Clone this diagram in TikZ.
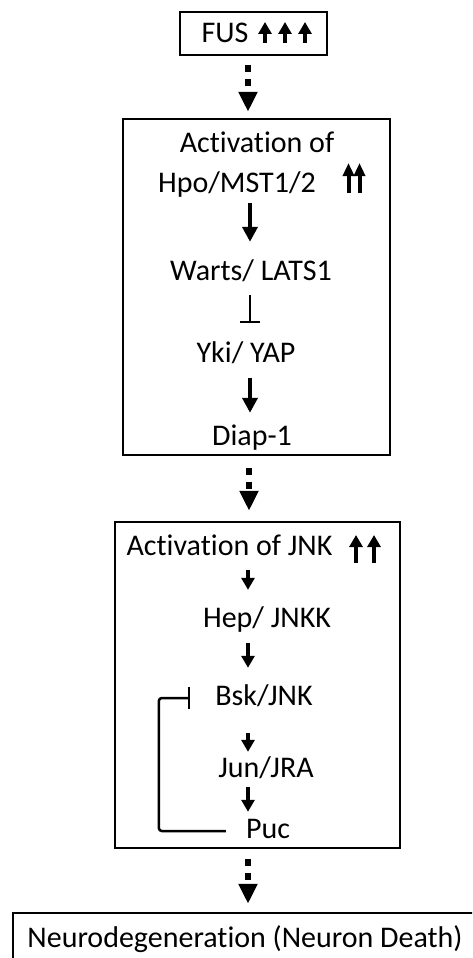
\documentclass[tikz,border=0pt]{standalone}
\usepackage{fontspec}
\setmainfont{Carlito}[Ligatures=NoCommon]
\usetikzlibrary{arrows.meta,calc}
\begin{document}
\begin{tikzpicture}[x=1pt,y=-1pt,
  lbl/.style={font=\fontsize{30}{36}\selectfont, inner sep=0pt, text height=21pt, text depth=7pt, anchor=base},
  boxn/.style={draw, line width=2.5pt, inner sep=0pt},
  darr/.style={line width=4pt, -{Triangle[length=15pt,width=15pt]}},
  sarr/.style={line width=4pt, -{Triangle[length=12pt,width=13pt]}},
  inh/.style={line width=2pt, -{Bar[width=20pt,line width=2pt]}},
  fback/.style={line width=2.5pt, rounded corners=3pt, -{Bar[width=22pt,line width=2.5pt]}},
  dotarr/.style={line width=6.5pt, dash pattern=on 6.5pt off 7.5pt, -{Triangle[length=20pt,width=18pt]}},
  uparr/.style={line width=4pt, -{Triangle[length=12pt,width=13pt]}},
  uparrn/.style={line width=4pt, -{Triangle[length=13pt,width=11pt]}}]
\useasboundingbox (0,0) rectangle (472,958);
\begin{scope}
\clip (0,0) rectangle (472,958);
% axes
\coordinate (axa) at (248,0);
\coordinate (axb) at (249,0);
\coordinate (ax2) at (250,0);
\coordinate (ax3) at (248,0);
% boxes
\node[boxn, minimum width=147pt, minimum height=43pt] (fus) at (253.5,33.5) {};
\node[boxn, minimum width=267pt, minimum height=336pt] (hippo) at (256.5,287) {};
\node[boxn, minimum width=285pt, minimum height=326pt] (jnk) at (257.5,685) {};
\node[boxn, minimum width=469pt, minimum height=55pt] (neuro) at (247.5,940.5) {};
% texts
\node[lbl] (fustxt) at (225,43) {FUS};
\node[lbl] (act1) at (257,152) {Activation of};
\node[lbl] (hpo) at (237,192) {Hpo/MST1/2};
\node[lbl] (warts) at (251,280) {Warts/ LATS1};
\node[lbl] (yki) at (246,362) {Yki/ YAP};
\node[lbl] (diap) at (252,445) {Diap-1};
\node[lbl] (act2) at (229.5,555) {Activation of JNK};
\node[lbl] (hep) at (267,627) {Hep/ JNKK};
\node[lbl] (bsk) at (264,705) {Bsk/JNK};
\node[lbl] (jun) at (266,777) {Jun/JRA};
\node[lbl] (puc) at (268,838) {Puc};
\node[lbl] (neurotxt) at (245,947) {Neurodegeneration (Neuron Death)};
% up arrows
\foreach \x in {265,285,305} \draw[uparr] (\x,43) -- (\x,22);
\foreach \x in {348.5,359.5} \draw[uparrn] (\x,193) -- (\x,163);
\foreach \x in {356,374} \draw[uparr] (\x,563) -- (\x,535);
% dotted connectors
\draw[dotarr, shorten <=9pt, shorten >=6pt] (fus.south -| axa) -- (hippo.north -| axa);
\draw[dotarr, shorten <=12pt, shorten >=10pt] (hippo.south -| axb) -- (jnk.north -| axb);
\draw[dotarr, shorten <=10pt, shorten >=8pt] (jnk.south -| axa) -- (neuro.north -| axa);
% hippo pathway
\draw[darr, shorten <=4pt, shorten >=17pt] (hpo.south -| ax2) -- (warts.north -| ax2);
\draw[inh, shorten <=8pt, shorten >=18pt] (warts.south -| ax2) -- (yki.north -| ax2);
\draw[darr, shorten <=9pt, shorten >=11pt] (yki.south -| ax2) -- (diap.north -| ax2);
% JNK pathway
\draw[sarr, shorten <=8pt, shorten >=16pt] (act2.south -| ax3) -- (hep.north -| ax3);
\draw[sarr, shorten <=9pt, shorten >=16pt] (hep.south -| ax3) -- (bsk.north -| ax3);
\draw[sarr, shorten <=21pt, shorten >=4pt] (bsk.south -| ax3) -- (jun.north -| ax3);
\draw[sarr, shorten <=3pt, shorten >=5pt] (jun.south -| ax3) -- (puc.north -| ax3);
% feedback
\draw[fback] ([xshift=-20pt]puc.west) -- ++(-67,0) |- ([xshift=-25pt]bsk.west);
\end{scope}
\end{tikzpicture}
\end{document}
